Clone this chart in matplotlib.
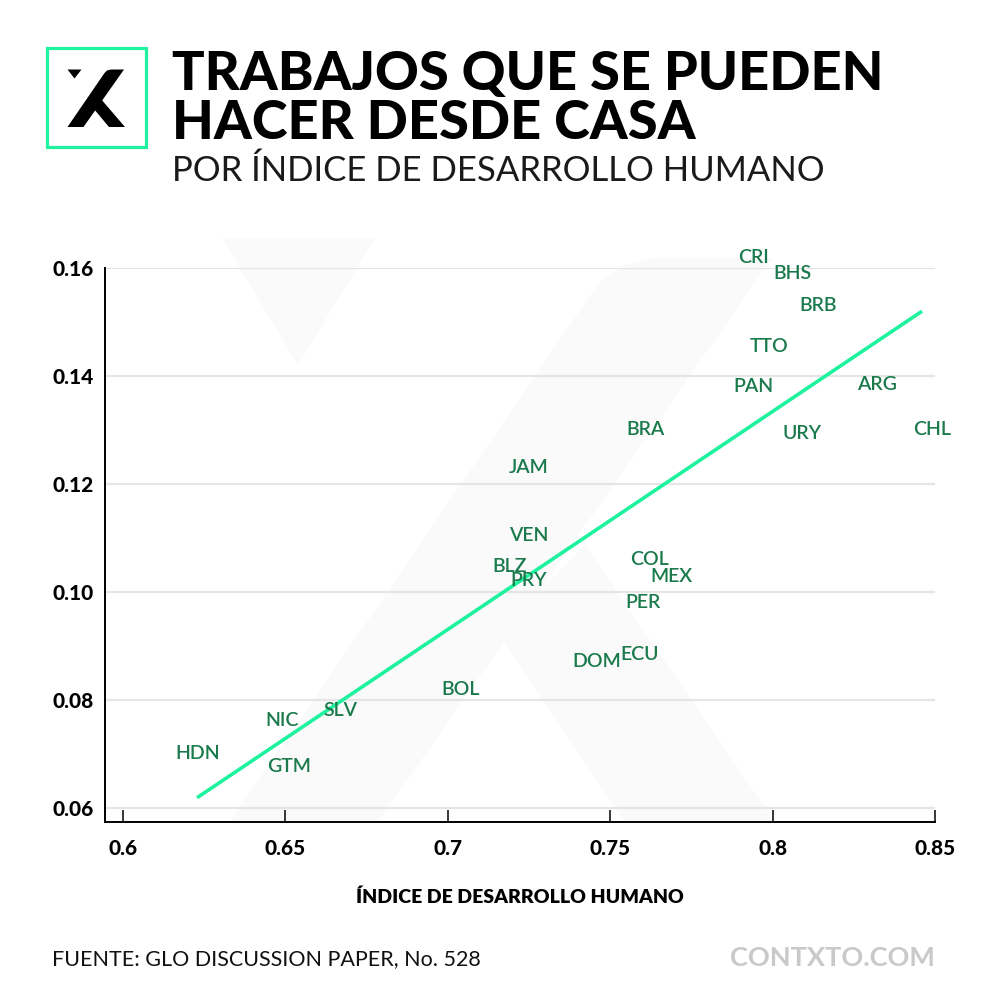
import matplotlib
matplotlib.use("Agg")
import matplotlib.pyplot as plt
from matplotlib.patches import Polygon, Rectangle

# data
paises = ['CRI', 'BHS', 'BRB', 'TTO', 'PAN', 'ARG', 'BRA', 'URY', 'CHL', 'JAM', 'VEN', 'BLZ',
          'PRY', 'COL', 'MEX', 'PER', 'DOM', 'ECU', 'BOL', 'SLV', 'NIC', 'HDN', 'GTM']
idh = [0.794, 0.806, 0.814, 0.799, 0.794, 0.832, 0.761, 0.809, 0.849, 0.725, 0.725, 0.719,
       0.725, 0.762, 0.769, 0.760, 0.746, 0.759, 0.704, 0.667, 0.649, 0.623, 0.651]
casa = [0.162, 0.159, 0.153, 0.1455, 0.138, 0.1385, 0.130, 0.1294, 0.130, 0.1231, 0.1104, 0.1048,
        0.1022, 0.1061, 0.1028, 0.0981, 0.0871, 0.0885, 0.082, 0.0781, 0.0762, 0.070, 0.0676]

# fitted trend line end points
ajuste_x = [0.6228, 0.846]
ajuste_y = [0.0619, 0.152]

xticks = [0.6, 0.65, 0.7, 0.75, 0.8, 0.85]
xtick_labels = ['0.6', '0.65', '0.7', '0.75', '0.8', '0.85']
yticks = [0.06, 0.08, 0.10, 0.12, 0.14, 0.16]
ytick_labels = ['0.06', '0.08', '0.10', '0.12', '0.14', '0.16']

MENTA = '#1ef29e'
VERDE = '#1a7a4c'
FONT = 'Lato'

W, H = 1000, 999
fig = plt.figure(figsize=(W / 100, H / 100), dpi=100)
fig.patch.set_facecolor('white')

# decoration layer in pixel coords (logo, watermark)
deco = fig.add_axes([0, 0, 1, 1], zorder=0)
deco.set_xlim(0, W)
deco.set_ylim(H, 0)
deco.axis('off')

wm = '#fafafa'
deco.add_patch(Polygon([(222, 238), (375, 238), (298, 365)], closed=True, fc=wm, ec='none'))
deco.add_patch(Polygon([(230, 822), (378, 822), (772, 258), (655, 258), (622, 266), (598, 284)],
                       closed=True, fc=wm, ec='none'))
deco.add_patch(Polygon([(498, 632), (585, 545), (775, 822), (625, 822)], closed=True, fc=wm, ec='none'))

# logo
deco.add_patch(Rectangle((47, 48), 99, 99, fill=False, ec=MENTA, lw=2.3))
deco.add_patch(Polygon([(67.5, 69.5), (81.5, 69.5), (74.5, 78.5)], closed=True, fc='black', ec='none'))
deco.add_patch(Polygon([(67.5, 127), (83.5, 127), (124, 69.5), (111, 69.5), (107, 70.5), (104.5, 73)],
                       closed=True, fc='black', ec='none'))
deco.add_patch(Polygon([(93.5, 108.5), (100.5, 98.5), (125, 127), (109, 127)], closed=True,
                       fc='black', ec='none'))

# titles
def fy(y):
    return 1 - y / H

fig.text(0.172, fy(90), 'TRABAJOS QUE SE PUEDEN', family=FONT, weight='black', fontsize=39,
         color='black', va='baseline', ha='left')
fig.text(0.172, fy(139), 'HACER DESDE CASA', family=FONT, weight='black', fontsize=39,
         color='black', va='baseline', ha='left')
fig.text(0.172, fy(181), 'POR ÍNDICE DE DESARROLLO HUMANO', family=FONT, weight='normal', fontsize=25,
         color='#1a1a1a', va='baseline', ha='left')

# main chart
ax = fig.add_axes([105 / W, 1 - 822 / H, 830 / W, 554 / H], zorder=1)
ax.patch.set_alpha(0)
ax.set_xlim(0.59446, 0.85)
ax.set_ylim(0.0574, 0.16)

ax.plot(ajuste_x, ajuste_y, color=MENTA, lw=2.6, solid_capstyle='butt', zorder=3)
for p, x, y in zip(paises, idh, casa):
    ax.text(x, y, p, family=FONT, weight='semibold', fontsize=14, color=VERDE,
            ha='center', va='center', zorder=4)

ax.set_yticks(yticks)
ax.set_yticklabels(ytick_labels)
ax.set_xticks(xticks)
ax.set_xticklabels(xtick_labels)
ax.yaxis.grid(True, color='#e5e5e5', lw=1.6)
ax.set_axisbelow(True)
for s in ['top', 'right']:
    ax.spines[s].set_visible(False)
for s in ['left', 'bottom']:
    ax.spines[s].set_color('black')
    ax.spines[s].set_linewidth(1.4)
ax.tick_params(axis='x', direction='in', length=9, width=1.1, color='black', pad=12)
ax.tick_params(axis='y', length=0, pad=8)
for lbl in ax.get_xticklabels() + ax.get_yticklabels():
    lbl.set_fontfamily(FONT)
    lbl.set_fontweight('black')
    lbl.set_fontsize(15)
    lbl.set_color('black')

ax.set_xlabel('ÍNDICE DE DESARROLLO HUMANO', family=FONT, weight='heavy', fontsize=14,
              color='black', labelpad=22)

# footer
fig.text(0.052, fy(965), 'FUENTE: GLO DISCUSSION PAPER, No. 528', family=FONT, fontsize=15.5,
         color='#111111', va='baseline', ha='left')
fig.text(0.935, fy(966), 'CONTXTO.COM', family=FONT, weight='bold', fontsize=19.5,
         color='#c9c9c9', va='baseline', ha='right')

fig.savefig('out.png', dpi=100, facecolor='white')
